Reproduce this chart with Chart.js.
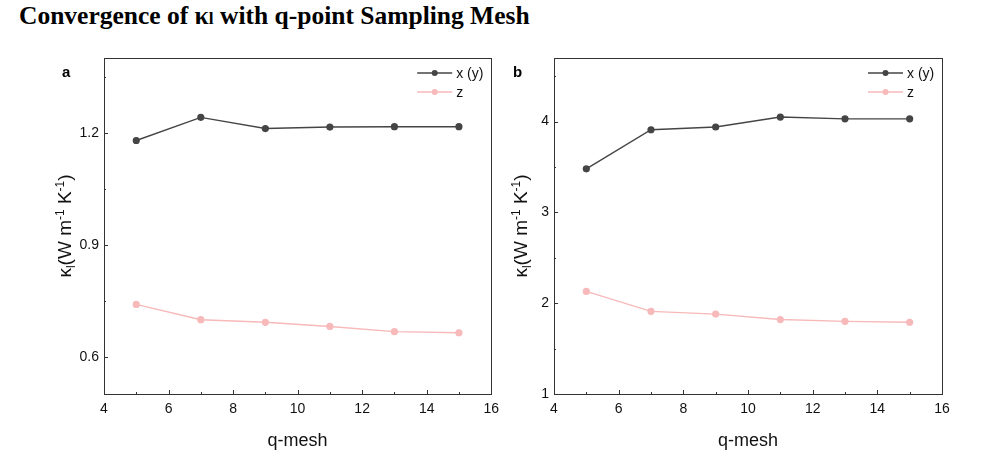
<!DOCTYPE html>
<html>
<head>
<meta charset="utf-8">
<script src="https://cdn.jsdelivr.net/npm/chart.js@4.4.1/dist/chart.umd.min.js"></script>
<style>
body { margin: 0; background: #fff; }
#wrap { position: relative; width: 998px; height: 456px; overflow: hidden; }
#title { position: absolute; left: 19px; top: 1px; font-family: "Liberation Serif", "Times New Roman", serif; font-weight: bold; font-size: 25.5px; color: #000; white-space: nowrap; }
#title .sub { font-size: 0.68em; }
#canvasA { position: absolute; left: 0; top: 0; }
#canvasB { position: absolute; left: 500px; top: 0; }
</style>
</head>
<body>
<div id="wrap">
  <div id="title">Convergence of κ<span class="sub">l</span> with q-point Sampling Mesh</div>
  <canvas id="canvasA" width="506" height="456"></canvas>
  <canvas id="canvasB" width="498" height="456"></canvas>
</div>
<script>
// datos
const qMesh = [5, 7, 9, 11, 13, 15];
const kappaXA = [1.179, 1.241, 1.211, 1.215, 1.216, 1.216];
const kappaZA = [0.740, 0.699, 0.692, 0.681, 0.667, 0.664];
const kappaXB = [3.48, 3.91, 3.94, 4.05, 4.03, 4.03];
const kappaZB = [2.13, 1.91, 1.88, 1.82, 1.80, 1.79];

const seriesNames = ['x (y)', 'z'];
const xTicks = [4, 6, 8, 10, 12, 14, 16];
const xMinor = [5, 7, 9, 11, 13, 15];
const yTicksA = [0.6, 0.9, 1.2];
const yMinorA = [0.75, 1.05, 1.35];
const yTicksB = [1, 2, 3, 4];
const yMinorB = [1.5, 2.5, 3.5, 4.5];

const colorX = '#454545';
const colorZ = '#f7b9b9';
const axisColor = '#333333';
const sansFont = '"Liberation Sans", Arial, sans-serif';

function toPoints(vals){
	return qMesh.map(function(q, i){ return {x: q, y: vals[i]}; });
}

// cuadro, ticks interiores, leyenda, letra del panel y titulo del eje y
const panelPlugin = {
	id: 'panelDecor',
	afterDraw: function(chart, args, opts){
		const ctx = chart.ctx;
		const area = chart.chartArea;
		const xs = chart.scales.x;
		const ys = chart.scales.y;
		ctx.save();
		ctx.strokeStyle = axisColor;
		ctx.lineWidth = 1;
		ctx.strokeRect(Math.round(area.left) + 0.5, Math.round(area.top) + 0.5,
			Math.round(area.right - area.left), Math.round(area.bottom - area.top));

		ctx.beginPath();
		xTicks.forEach(function(v){
			const px = Math.round(xs.getPixelForValue(v)) + 0.5;
			ctx.moveTo(px, area.bottom); ctx.lineTo(px, area.bottom - 4);
		});
		xMinor.forEach(function(v){
			const px = Math.round(xs.getPixelForValue(v)) + 0.5;
			ctx.moveTo(px, area.bottom); ctx.lineTo(px, area.bottom - 2);
		});
		opts.yTicks.forEach(function(v){
			const py = Math.round(ys.getPixelForValue(v)) + 0.5;
			ctx.moveTo(area.left, py); ctx.lineTo(area.left + 4, py);
		});
		opts.yMinor.forEach(function(v){
			const py = Math.round(ys.getPixelForValue(v)) + 0.5;
			ctx.moveTo(area.left, py); ctx.lineTo(area.left + 2, py);
		});
		ctx.stroke();

		// leyenda
		ctx.font = '14px ' + sansFont;
		ctx.textBaseline = 'middle';
		ctx.textAlign = 'left';
		chart.data.datasets.forEach(function(ds, i){
			const y = area.top + 15 + i * 19;
			const x0 = area.right - 74, x1 = area.right - 39;
			ctx.strokeStyle = ds.borderColor;
			ctx.lineWidth = 1.4;
			ctx.beginPath(); ctx.moveTo(x0, y); ctx.lineTo(x1, y); ctx.stroke();
			ctx.fillStyle = ds.pointBackgroundColor;
			ctx.beginPath(); ctx.arc((x0 + x1) / 2, y, 3, 0, Math.PI * 2); ctx.fill();
			ctx.fillStyle = '#111';
			ctx.fillText(ds.label, x1 + 4, y + 1);
		});

		// letra del panel
		ctx.font = 'bold 15px ' + sansFont;
		ctx.fillStyle = '#000';
		ctx.fillText(opts.letter, opts.letterX, 73);

		// titulo eje y con sub/superindices
		const runs = [
			{t: 'κ', s: 19, o: 0},
			{t: 'l', s: 12, o: 4},
			{t: '(W m', s: 19, o: 0},
			{t: '-1', s: 12, o: -7},
			{t: ' K', s: 19, o: 0},
			{t: '-1', s: 12, o: -7},
			{t: ')', s: 19, o: 0}
		];
		let total = 0;
		runs.forEach(function(r){ ctx.font = r.s + 'px ' + sansFont; r.w = ctx.measureText(r.t).width; total += r.w; });
		ctx.translate(opts.titleX, (area.top + area.bottom) / 2);
		ctx.rotate(-Math.PI / 2);
		ctx.fillStyle = '#111';
		ctx.textBaseline = 'alphabetic';
		let cx = -total / 2;
		runs.forEach(function(r){
			ctx.font = r.s + 'px ' + sansFont;
			ctx.fillText(r.t, cx, 7 + r.o);
			cx += r.w;
		});
		ctx.restore();
	}
};

function buildPanel(canvasId, xVals, zVals, yMin, yMax, yTicks, yMinor, yWidth, padRight, letter, letterX, titleX){
	const ctx = document.getElementById(canvasId).getContext('2d');
	return new Chart(ctx, {
		type: 'line',
		data: {
			datasets: [
				{ label: seriesNames[0], data: toPoints(xVals), borderColor: colorX, backgroundColor: colorX,
				  pointBackgroundColor: colorX, pointBorderColor: colorX, borderWidth: 1.4, pointRadius: 2.9, tension: 0 },
				{ label: seriesNames[1], data: toPoints(zVals), borderColor: colorZ, backgroundColor: colorZ,
				  pointBackgroundColor: colorZ, pointBorderColor: colorZ, borderWidth: 1.4, pointRadius: 2.9, tension: 0 }
			]
		},
		options: {
			responsive: false,
			animation: false,
			layout: { padding: { top: 58, right: padRight, left: 0, bottom: 0 } },
			plugins: {
				legend: { display: false },
				tooltip: { enabled: false },
				panelDecor: { letter: letter, letterX: letterX, titleX: titleX, yTicks: yTicks, yMinor: yMinor }
			},
			scales: {
				x: {
					type: 'linear', min: 4, max: 16,
					afterBuildTicks: function(s){ s.ticks = xTicks.map(function(v){ return {value: v}; }); },
					afterFit: function(s){ s.height = 62; },
					grid: { display: false, drawTicks: false },
					border: { display: false },
					ticks: { padding: 7, color: '#111', font: { family: sansFont, size: 14 }, maxRotation: 0 },
					title: { display: true, text: 'q-mesh', color: '#111', font: { family: sansFont, size: 18 }, padding: { top: 10 } }
				},
				y: {
					type: 'linear', min: yMin, max: yMax,
					afterBuildTicks: function(s){ s.ticks = yTicks.map(function(v){ return {value: v}; }); },
					afterFit: function(s){ s.width = yWidth; },
					grid: { display: false, drawTicks: false },
					border: { display: false },
					ticks: { padding: 5, color: '#111', font: { family: sansFont, size: 14 } }
				}
			}
		},
		plugins: [panelPlugin]
	});
}

window.onload = function(){
	buildPanel('canvasA', kappaXA, kappaZA, 0.5, 1.4, yTicksA, yMinorA, 104, 14, 'a', 62, 64);
	buildPanel('canvasB', kappaXB, kappaZB, 1, 4.7, yTicksB, yMinorB, 54, 56, 'b', 13, 20);
};
</script>
</body>
</html>
